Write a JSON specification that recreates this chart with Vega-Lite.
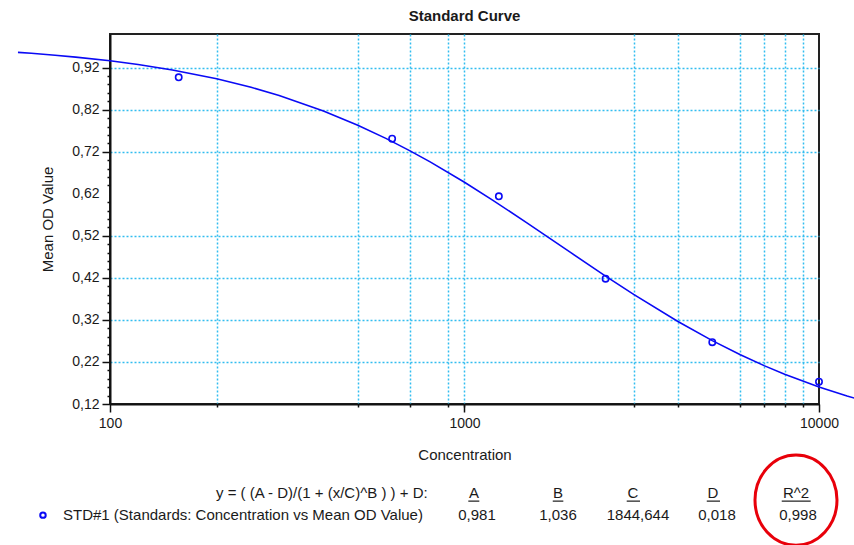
{
  "$schema": "https://vega.github.io/schema/vega-lite/v6.json",
  "width": 709,
  "height": 370,
  "autosize": {"type": "none"},
  "padding": {"left": 110, "top": 34, "right": 35, "bottom": 141},
  "background": "white",
  "title": {"text": "Standard Curve", "fontSize": 15, "fontWeight": "bold", "font": "Liberation Sans", "color": "#1a1a1a", "offset": 10},
  "config": {
    "view": {"stroke": "#222222", "strokeWidth": 2},
    "font": "Liberation Sans",
    "axis": {"zindex": 0}
  },
  "datasets": {
    "curve": [
      {"conc": 55, "od": 0.9563}, {"conc": 60, "od": 0.9541}, {"conc": 70, "od": 0.9496}, {"conc": 80, "od": 0.9451},
      {"conc": 100, "od": 0.9362}, {"conc": 120, "od": 0.9274}, {"conc": 150, "od": 0.9144}, {"conc": 200, "od": 0.8934},
      {"conc": 250, "od": 0.8732}, {"conc": 300, "od": 0.8537}, {"conc": 400, "od": 0.8170}, {"conc": 500, "od": 0.7831},
      {"conc": 600, "od": 0.7518}, {"conc": 700, "od": 0.7227}, {"conc": 800, "od": 0.6958}, {"conc": 1000, "od": 0.6473},
      {"conc": 1200, "od": 0.6050}, {"conc": 1500, "od": 0.5509}, {"conc": 2000, "od": 0.4793}, {"conc": 2500, "od": 0.4243},
      {"conc": 3000, "od": 0.3807}, {"conc": 4000, "od": 0.3162}, {"conc": 5000, "od": 0.2708}, {"conc": 6000, "od": 0.2372},
      {"conc": 7000, "od": 0.2113}, {"conc": 8000, "od": 0.1908}, {"conc": 10000, "od": 0.1604}, {"conc": 12000, "od": 0.1390},
      {"conc": 13000, "od": 0.1305}
    ],
    "standards": [
      {"conc": 156.25, "od": 0.897}, {"conc": 625, "od": 0.751}, {"conc": 1250, "od": 0.614},
      {"conc": 2500, "od": 0.418}, {"conc": 5000, "od": 0.267}, {"conc": 10000, "od": 0.173}
    ],
    "legendMarker": [{"conc": 64.7, "od": -0.1443}],
    "leftText": [
      {"conc": 199.1, "od": -0.0919, "label": "y = ( (A - D)/(1 + (x/C)^B ) ) + D:"},
      {"conc": 73.7, "od": -0.1443, "label": "STD#1 (Standards: Concentration vs Mean OD Value)"}
    ],
    "centerText": [
      {"conc": 1063.6, "od": -0.0919, "label": "A"},
      {"conc": 1835.5, "od": -0.0919, "label": "B"},
      {"conc": 2987.6, "od": -0.0919, "label": "C"},
      {"conc": 5023, "od": -0.0919, "label": "D"},
      {"conc": 8612, "od": -0.0919, "label": "R^2"},
      {"conc": 1084.6, "od": -0.1443, "label": "0,981"},
      {"conc": 1835.5, "od": -0.1443, "label": "1,036"},
      {"conc": 3086.3, "od": -0.1443, "label": "1844,644"},
      {"conc": 5155, "od": -0.1443, "label": "0,018"},
      {"conc": 8725, "od": -0.1443, "label": "0,998"}
    ],
    "underlines": [
      {"x1": 1025, "x2": 1101, "od": -0.111},
      {"x1": 1774, "x2": 1900, "od": -0.111},
      {"x1": 2868, "x2": 3127, "od": -0.111},
      {"x1": 4824, "x2": 5257, "od": -0.111},
      {"x1": 7850, "x2": 9475, "od": -0.111}
    ],
    "highlight": [{"conc": 8612, "od": -0.1085}]
  },
  "resolve": {"axis": {"x": "independent", "y": "independent"}},
  "layer": [
    {
      "data": {"name": "curve"},
      "mark": {"type": "line", "color": "#0a0af5", "strokeWidth": 1.6, "clip": false},
      "encoding": {
        "x": {
          "field": "conc", "type": "quantitative",
          "scale": {"type": "log", "domain": [100, 10000], "nice": false},
          "axis": {
            "orient": "bottom", "values": [100, 1000, 10000], "labelExpr": "format(datum.value, 'd')",
            "title": "Concentration", "titleFontSize": 15, "titleFontWeight": "normal", "titleColor": "#1a1a1a", "titlePadding": 17,
            "labelFontSize": 14, "labelColor": "#1a1a1a", "labelPadding": 4, "labelFlush": false, "labelOverlap": false,
            "tickSize": 8, "tickColor": "#111111", "tickWidth": 1.5,
            "domainColor": "#111111", "domainWidth": 2, "grid": false, "zindex": 0
          }
        },
        "y": {
          "field": "od", "type": "quantitative",
          "scale": {"domain": [0.12, 1.0], "zero": false, "nice": false},
          "axis": {
            "orient": "left", "values": [0.12, 0.22, 0.32, 0.42, 0.52, 0.62, 0.72, 0.82, 0.92],
            "labelExpr": "replace(format(datum.value, '.2f'), '.', ',')",
            "title": "Mean OD Value", "titleFontSize": 15, "titleFontWeight": "normal", "titleColor": "#1a1a1a", "titlePadding": 16,
            "labelFontSize": 14, "labelColor": "#1a1a1a", "labelPadding": 3, "labelFlush": false, "labelOverlap": false,
            "tickSize": 8, "tickColor": "#111111", "tickWidth": 1.5,
            "tickOpacity": {"condition": {"test": "datum.value == 0.62", "value": 0}, "value": 1},
            "domainColor": "#111111", "domainWidth": 2,
            "grid": true, "gridColor": "#33bdf0", "gridDash": [2, 2], "gridWidth": 1.5,
            "gridOpacity": {"condition": {"test": "datum.value == 0.62 || datum.value == 0.12", "value": 0}, "value": 1},
            "zindex": 0
          }
        }
      }
    },
    {
      "data": {"name": "standards"},
      "mark": {"type": "point", "shape": "circle", "size": 40, "filled": false, "stroke": "#0a0af5", "strokeWidth": 1.6, "opacity": 1, "clip": false},
      "encoding": {
        "x": {
          "field": "conc", "type": "quantitative",
          "axis": {
            "orient": "bottom", "values": [200, 500, 700, 900, 1000, 3000, 4000, 6000, 7000, 8000, 9000],
            "labels": false, "title": null, "domain": false,
            "tickSize": 3, "tickColor": "#111111", "tickWidth": 1.5,
            "grid": true, "gridColor": "#33bdf0", "gridDash": [2, 2], "gridWidth": 1.5, "zindex": 0
          }
        },
        "y": {
          "field": "od", "type": "quantitative",
          "axis": {
            "orient": "left",
            "values": [0.14, 0.16, 0.18, 0.2, 0.24, 0.26, 0.28, 0.3, 0.34, 0.36, 0.38, 0.4, 0.44, 0.46, 0.48, 0.5, 0.54, 0.56, 0.58, 0.6, 0.64, 0.66, 0.68, 0.7, 0.74, 0.76, 0.78, 0.8, 0.84, 0.86, 0.88, 0.9],
            "labels": false, "title": null, "domain": false, "grid": false,
            "tickSize": 3, "tickColor": "#111111", "tickWidth": 1.5, "zindex": 0
          }
        }
      }
    },
    {
      "data": {"name": "legendMarker"},
      "mark": {"type": "point", "shape": "circle", "size": 30, "filled": false, "stroke": "#0a0af5", "strokeWidth": 2, "opacity": 1, "clip": false},
      "encoding": {
        "x": {"field": "conc", "type": "quantitative", "axis": null},
        "y": {"field": "od", "type": "quantitative", "axis": null}
      }
    },
    {
      "data": {"name": "leftText"},
      "mark": {"type": "text", "align": "left", "baseline": "middle", "fontSize": 15, "font": "Liberation Sans", "color": "#1a1a1a", "clip": false},
      "encoding": {
        "x": {"field": "conc", "type": "quantitative", "axis": null},
        "y": {"field": "od", "type": "quantitative", "axis": null},
        "text": {"field": "label", "type": "nominal"}
      }
    },
    {
      "data": {"name": "centerText"},
      "mark": {"type": "text", "align": "center", "baseline": "middle", "fontSize": 15, "font": "Liberation Sans", "color": "#1a1a1a", "clip": false},
      "encoding": {
        "x": {"field": "conc", "type": "quantitative", "axis": null},
        "y": {"field": "od", "type": "quantitative", "axis": null},
        "text": {"field": "label", "type": "nominal"}
      }
    },
    {
      "data": {"name": "underlines"},
      "mark": {"type": "rule", "color": "#1a1a1a", "strokeWidth": 1.2, "clip": false},
      "encoding": {
        "x": {"field": "x1", "type": "quantitative", "axis": null},
        "x2": {"field": "x2"},
        "y": {"field": "od", "type": "quantitative", "axis": null}
      }
    },
    {
      "data": {"name": "highlight"},
      "mark": {
        "type": "point",
        "shape": "M 0 -1.1 C 0.5523 -1.1 1 -0.6075 1 0 C 1 0.6075 0.5523 1.1 0 1.1 C -0.5523 1.1 -1 0.6075 -1 0 C -1 -0.6075 -0.5523 -1.1 0 -1.1 Z",
        "size": 6724, "filled": false, "stroke": "#e8000a", "strokeWidth": 3, "opacity": 1, "clip": false
      },
      "encoding": {
        "x": {"field": "conc", "type": "quantitative", "axis": null},
        "y": {"field": "od", "type": "quantitative", "axis": null}
      }
    }
  ]
}
